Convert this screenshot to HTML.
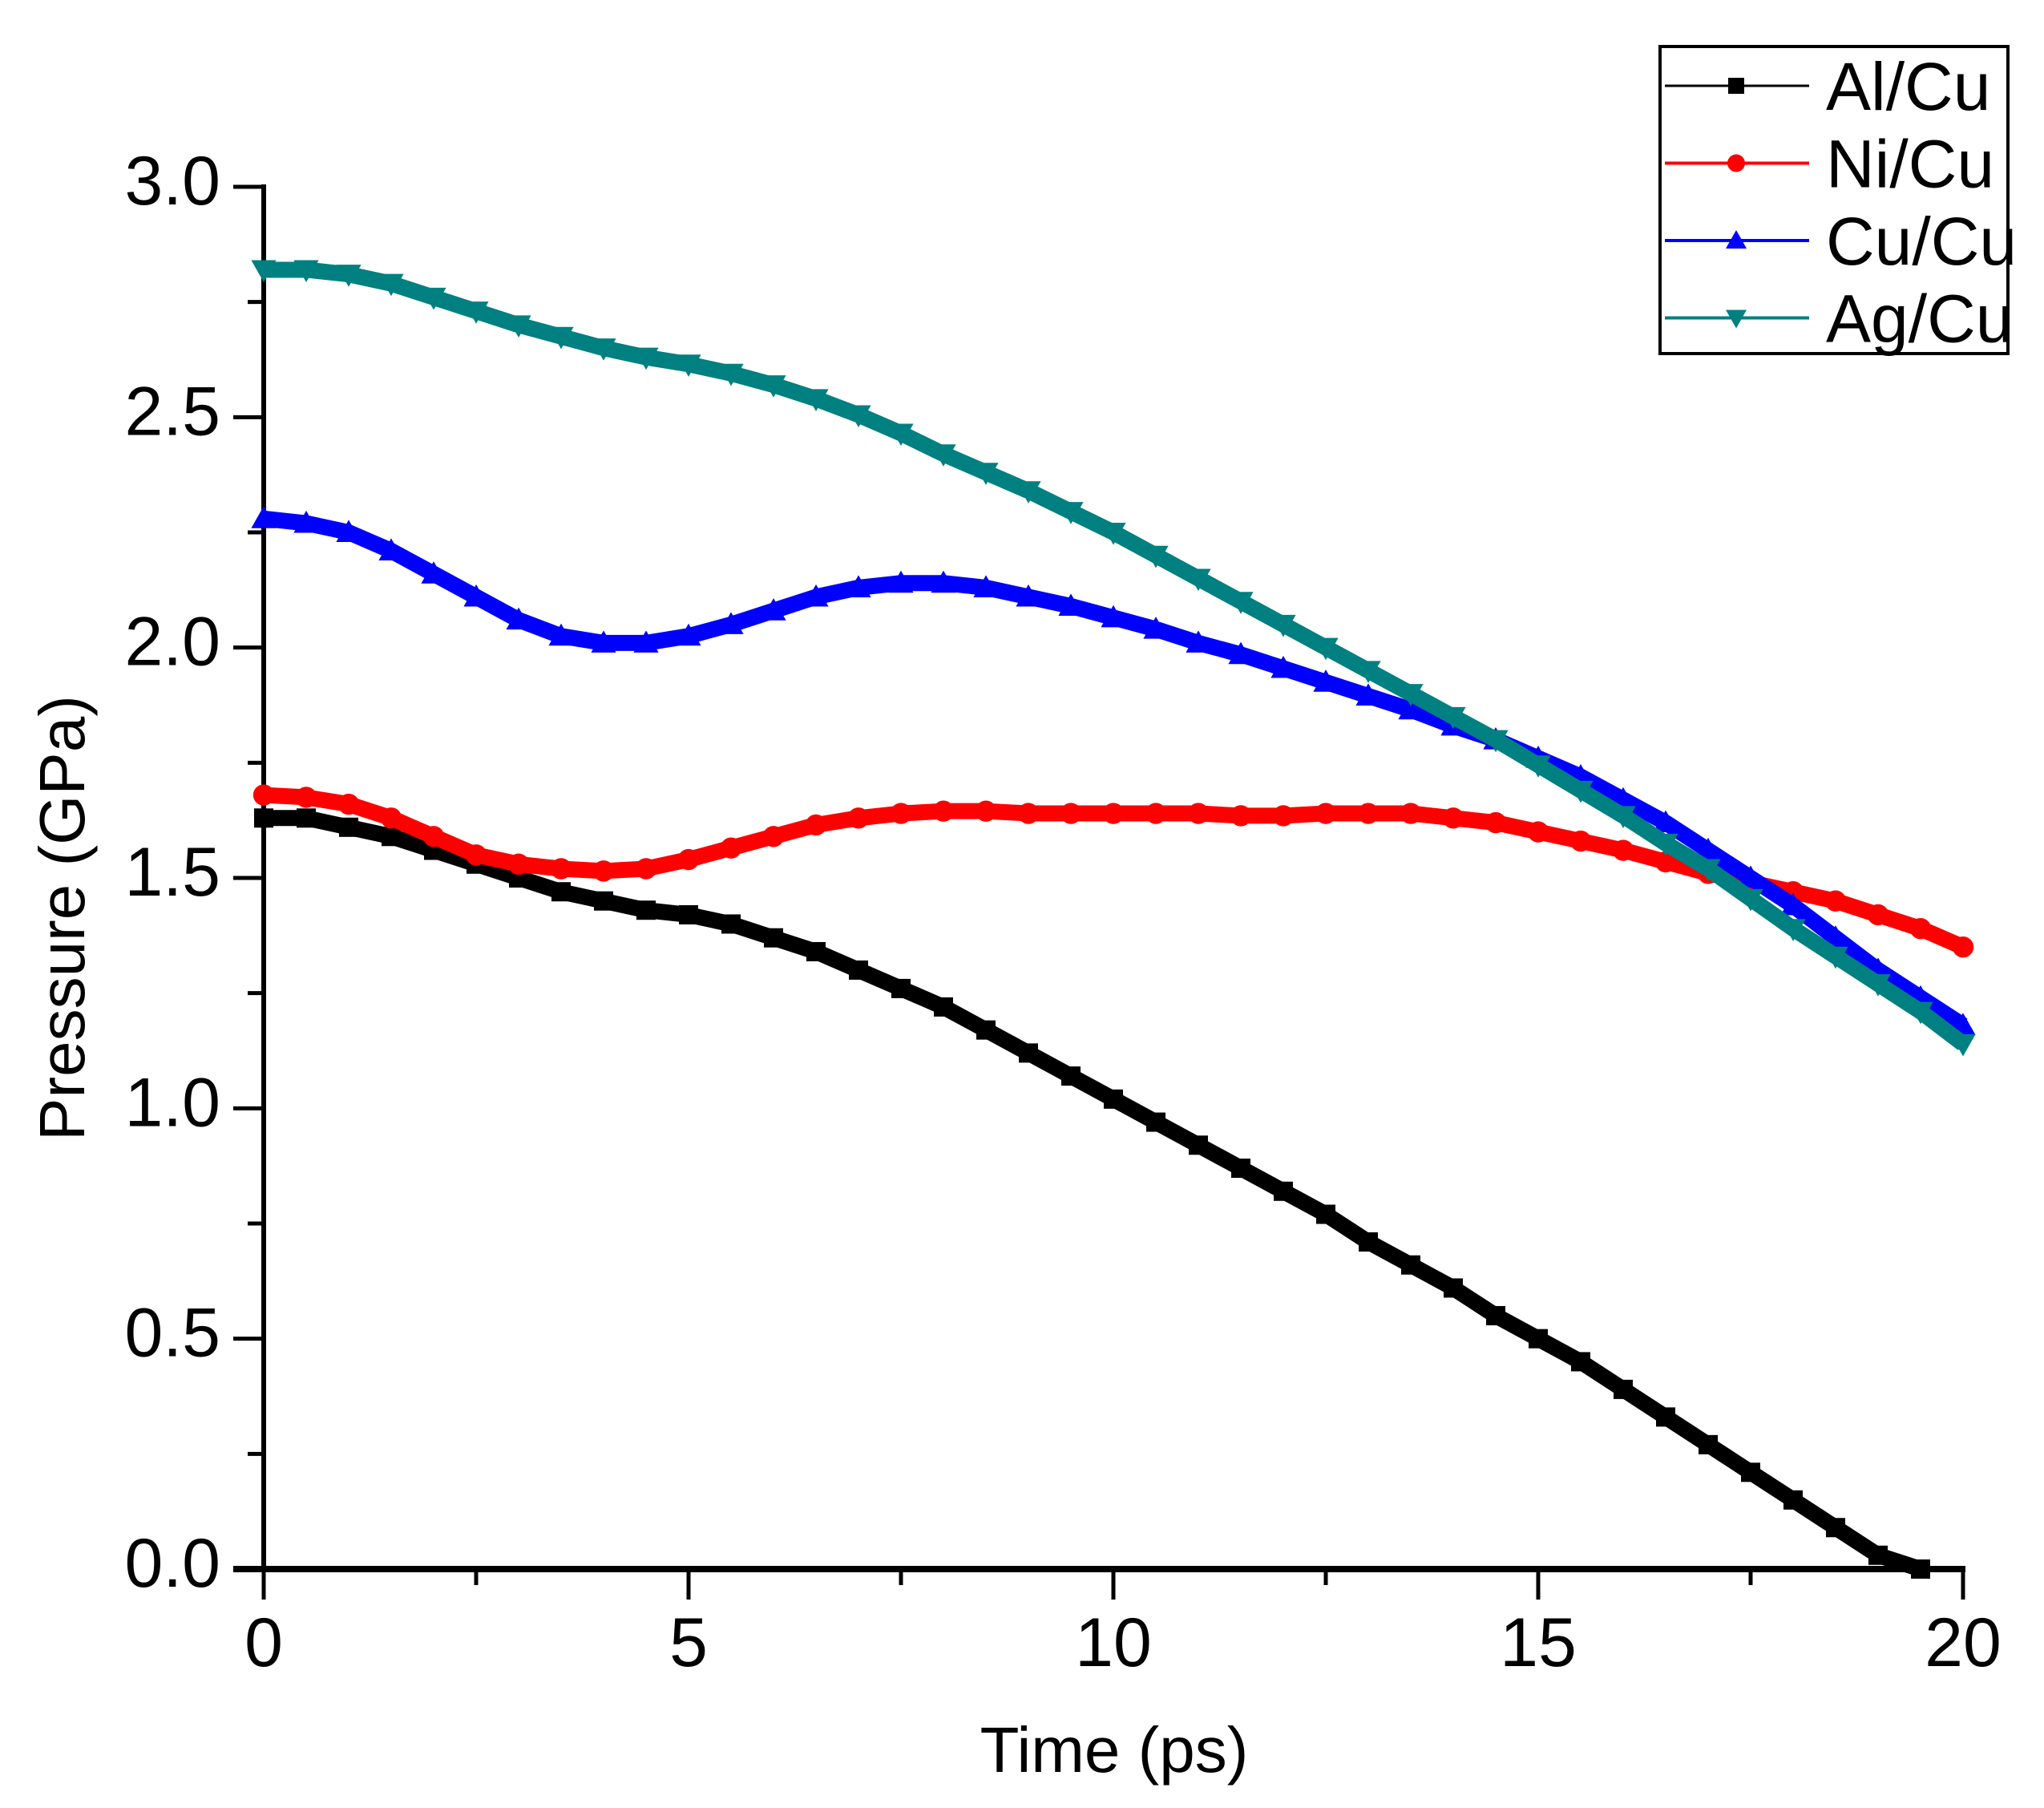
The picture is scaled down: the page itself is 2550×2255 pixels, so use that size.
<!DOCTYPE html>
<html><head><meta charset="utf-8"><style>
html,body{margin:0;padding:0;background:#fff;}
svg{display:block;font-family:"Liberation Sans",Arial,sans-serif;}
</style></head><body>
<svg id="chart" width="2550" height="2255" viewBox="0 0 2550 2255">
<g id="axes"></g>
<g id="series"></g>
<g id="legend"></g>
<text x="1390" y="2210" font-size="80" text-anchor="middle">Time (ps)</text>
<text x="0" y="0" font-size="80" text-anchor="middle" transform="translate(105,1145) rotate(-90)">Pressure (GPa)</text>
</svg>
<script>
const times = [0,0.5,1,1.5,2,2.5,3,3.5,4,4.5,5,5.5,6,6.5,7,7.5,8,8.5,9,9.5,10,10.5,11,11.5,12,12.5,13,13.5,14,14.5,15,15.5,16,16.5,17,17.5,18,18.5,19,19.5,20];
const alCu = [1.63,1.63,1.61,1.59,1.56,1.53,1.50,1.47,1.45,1.43,1.42,1.40,1.37,1.34,1.30,1.26,1.22,1.17,1.12,1.07,1.02,0.97,0.92,0.87,0.82,0.77,0.71,0.66,0.61,0.55,0.50,0.45,0.39,0.33,0.27,0.21,0.15,0.09,0.03,0.0];
const niCu = [1.68,1.675,1.66,1.63,1.59,1.55,1.53,1.52,1.515,1.52,1.54,1.565,1.59,1.615,1.63,1.64,1.645,1.645,1.64,1.64,1.64,1.64,1.64,1.635,1.635,1.64,1.64,1.64,1.63,1.62,1.60,1.58,1.56,1.535,1.51,1.49,1.47,1.45,1.42,1.39,1.35];
const cuCu = [2.28,2.27,2.25,2.21,2.16,2.11,2.06,2.025,2.01,2.01,2.025,2.05,2.08,2.11,2.13,2.14,2.14,2.13,2.11,2.09,2.065,2.04,2.01,1.985,1.955,1.925,1.895,1.865,1.83,1.80,1.76,1.72,1.67,1.62,1.56,1.50,1.44,1.37,1.30,1.24,1.18];
const agCu = [2.82,2.82,2.81,2.79,2.76,2.73,2.70,2.675,2.65,2.63,2.615,2.595,2.57,2.54,2.505,2.465,2.42,2.38,2.34,2.295,2.25,2.20,2.15,2.10,2.05,2.00,1.95,1.90,1.85,1.80,1.745,1.69,1.635,1.575,1.52,1.455,1.39,1.33,1.27,1.21,1.14];
const seriesNames = ["Al/Cu","Ni/Cu","Cu/Cu","Ag/Cu"];
const xTickLabels = ["0","5","10","15","20"];
const yTickLabels = ["0.0","0.5","1.0","1.5","2.0","2.5","3.0"];

const NS="http://www.w3.org/2000/svg";
const X0=329,X1=2449,Y0=1957,Y1=233;
const sx=t=>X0+(t/20)*(X1-X0);
const sy=v=>Y0-(v/3)*(Y0-Y1);
function mk(tag,attrs,parent){const e=document.createElementNS(NS,tag);for(const k in attrs)e.setAttribute(k,attrs[k]);parent.appendChild(e);return e;}
const axes=document.getElementById('axes');
let el;
el=mk('line',{x1:X0-38,y1:Y0,x2:X1+3,y2:Y0,stroke:'#000','stroke-width':8},axes);


el=mk('line',{x1:X0,y1:Y0+4,x2:X0,y2:Y1-3,stroke:'#000','stroke-width':6},axes);


for(let i=0;i<=8;i++){const t=i*2.5;const major=i%2===0;
 el=mk('line',{x1:sx(t),y1:Y0,x2:sx(t),y2:Y0+(major?38:20),stroke:'#000','stroke-width':5},axes);
 
 }
xTickLabels.forEach((s,i)=>{const t=+s;
 el=mk('text',{x:sx(t),y:2078,'font-size':86,'text-anchor':'middle'},axes);el.textContent=s;
 
 });
for(let i=0;i<=12;i++){const v=i*0.25;const major=i%2===0;
 el=mk('line',{x1:X0,y1:sy(v),x2:X0-(major?38:20),y2:sy(v),stroke:'#000','stroke-width':5},axes);
 
 }
yTickLabels.forEach(s=>{const v=+s;
 el=mk('text',{x:275,y:sy(v)+22,'font-size':86,'text-anchor':'end'},axes);el.textContent=s;
 
 });

const colors=['#000000','#ff0000','#0000ff','#008080'];
const data=[alCu,niCu,cuCu,agCu];
function marker(kind,x,y,c,parent,s){
 if(kind===0)return mk('rect',{x:x-s,y:y-s,width:2*s,height:2*s,fill:c},parent);
 if(kind===1)return mk('circle',{cx:x,cy:y,r:s*1.1,fill:c},parent);
 if(kind===2)return mk('polygon',{points:`${x},${y-s*1.3} ${x-s*1.3},${y+s} ${x+s*1.3},${y+s}`,fill:c},parent);
 return mk('polygon',{points:`${x},${y+s*1.3} ${x-s*1.3},${y-s} ${x+s*1.3},${y-s}`,fill:c},parent);
}
const sg=document.getElementById('series');
data.forEach((vals,k)=>{
 const g=mk('g',{},sg);
 
 
 const pts=vals.map((v,i)=>sx(times[i])+','+sy(v)).join(' ');
 el=mk('polyline',{points:pts,fill:'none',stroke:colors[k],'stroke-width':20,'stroke-linejoin':'round'},g);
 
 
 vals.forEach((v,i)=>{el=marker(k,sx(times[i]),sy(v),colors[k],g,12);
  
  });
});

const lg=document.getElementById('legend');
el=mk('rect',{x:2071,y:58,width:434,height:383,fill:'#fff',stroke:'#000','stroke-width':4},lg);


seriesNames.forEach((n,k)=>{const y=107+k*96.5;
 const g=mk('g',{},lg);
 
 
 mk('line',{x1:2077,y1:y,x2:2257,y2:y,stroke:colors[k],'stroke-width':k===0?3:4},g);
 marker(k,2166,y,colors[k],g,10);
 el=mk('text',{x:2278,y:y+30,'font-size':84},g);el.textContent=n;
 
 
});
</script>
</body></html>
